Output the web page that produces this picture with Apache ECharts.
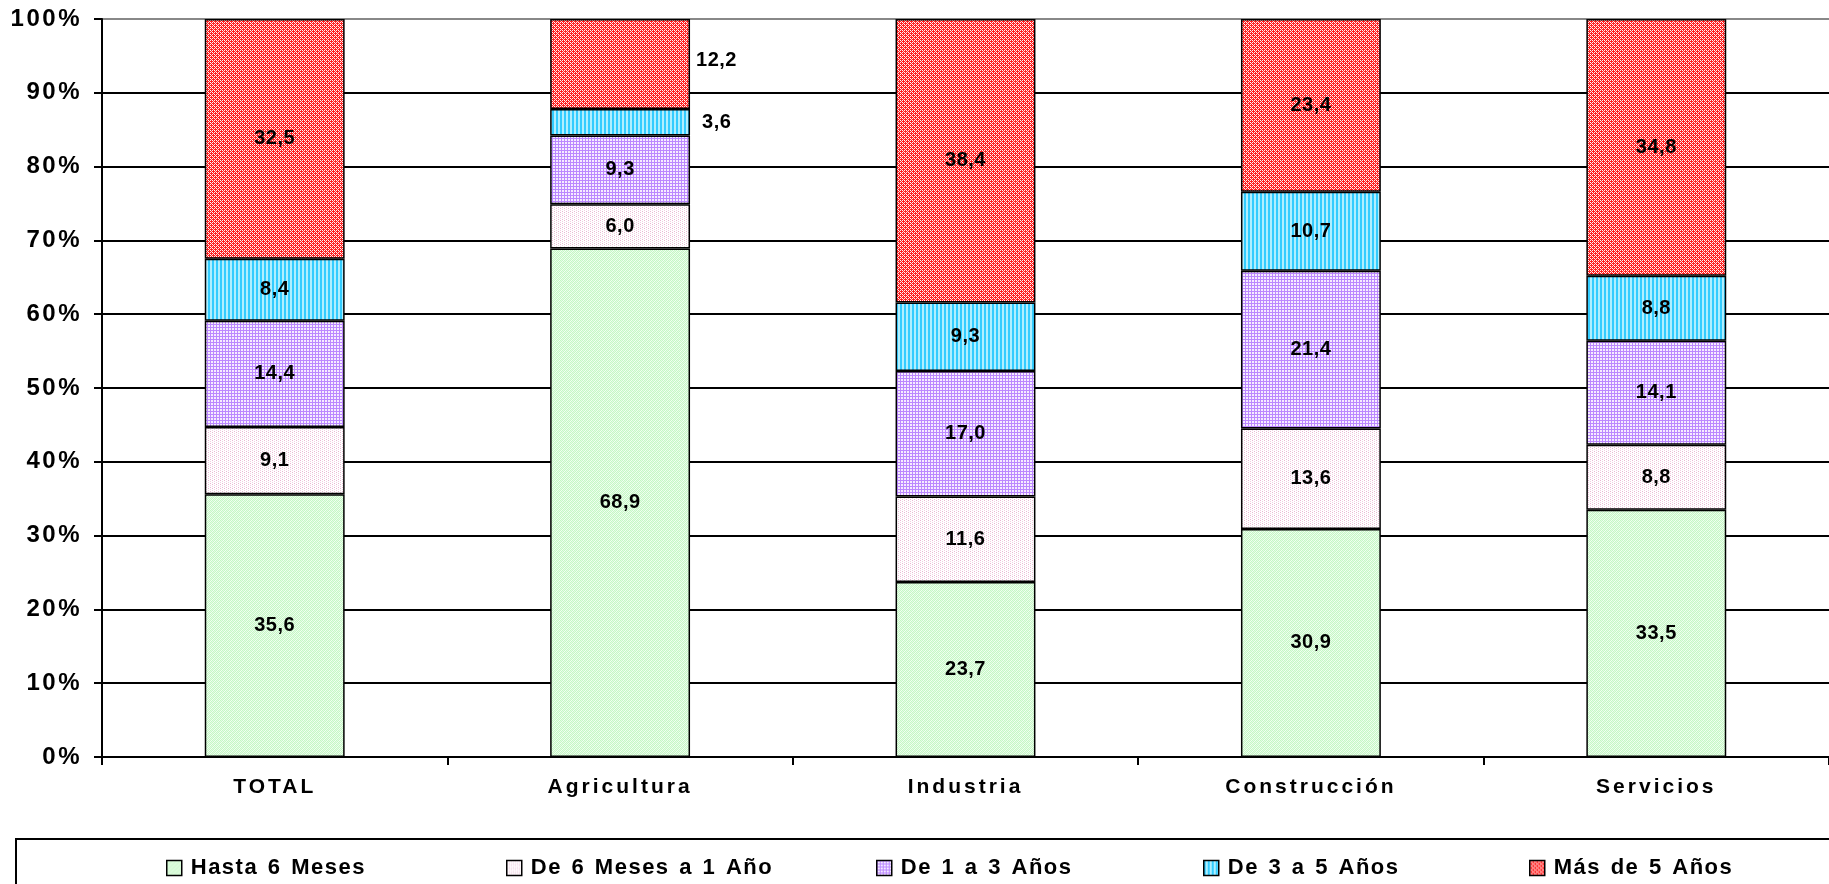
<!DOCTYPE html>
<html>
<head>
<meta charset="utf-8">
<script src="https://cdn.jsdelivr.net/npm/echarts@6/dist/echarts.min.js"></script>
<style>html,body{margin:0;padding:0;background:#fff;}#c{width:1829px;height:884px;}</style>
</head>
<body>
<div id="c"></div>
<script>
const categories = ['TOTAL', 'Agricultura', 'Industria', 'Construcción', 'Servicios'];
const seriesNames = ['Hasta 6 Meses', 'De 6 Meses a 1 Año', 'De 1 a 3 Años', 'De 3 a 5 Años', 'Más de 5 Años'];
const hasta6Meses = [35.6, 68.9, 23.7, 30.9, 33.5];
const de6Mesesa1Ano = [9.1, 6.0, 11.6, 13.6, 8.8];
const de1a3Anos = [14.4, 9.3, 17.0, 21.4, 14.1];
const de3a5Anos = [8.4, 3.6, 9.3, 10.7, 8.8];
const masDe5Anos = [32.5, 12.2, 38.4, 23.4, 34.8];
const yTicks = [0, 10, 20, 30, 40, 50, 60, 70, 80, 90, 100];

// Excel-like letter/word spacing, depending on the text size
(function(){
  const spacingBySize = {
    '20': ['0.5px', '0px'],   // data labels
    '24': ['2.5px', '0px'],   // value axis labels
    '21': ['3px', '0px'],     // category labels
    '22': ['1.5px', '2px']    // legend
  };
  const of = CanvasRenderingContext2D.prototype.fillText;
  CanvasRenderingContext2D.prototype.fillText = function(){
    try {
      const m = /(\d+(?:\.\d+)?)px/.exec(this.font || '');
      const key = m ? String(Math.round(parseFloat(m[1]))) : '';
      const s = spacingBySize[key] || ['0px', '0px'];
      this.letterSpacing = s[0];
      this.wordSpacing = s[1];
    } catch(e) {}
    return of.apply(this, arguments);
  };
})();

function pattern(kind){
  const c = document.createElement('canvas');
  const ctx = c.getContext('2d');
  function px(x,y,col){ ctx.fillStyle = col; ctx.fillRect(x,y,1,1); }
  if (kind === 'green') {
    c.width = 4; c.height = 4;
    ctx.fillStyle = '#c6f7c6'; ctx.fillRect(0,0,4,4);
    for (let i=0;i<4;i++){ px(i,(3-i),'#f2fff2'); px((i+2)%4,(3-i),'#e4fde4'); }
  } else if (kind === 'pink') {
    c.width = 4; c.height = 4;
    ctx.fillStyle = '#ffffff'; ctx.fillRect(0,0,4,4);
    px(0,0,'#eab8d2'); px(0,2,'#f2d0e2'); px(2,1,'#f2d0e2'); px(2,3,'#eab8d2');
  } else if (kind === 'purple') {
    c.width = 3; c.height = 3;
    ctx.fillStyle = '#f6ecff'; ctx.fillRect(0,0,3,3);
    ctx.fillStyle = '#bb88ff'; ctx.fillRect(0,0,3,1); ctx.fillRect(0,0,1,3);
  } else if (kind === 'cyan') {
    c.width = 4; c.height = 1;
    ctx.fillStyle = '#33ccff'; ctx.fillRect(0,0,2,1);
    ctx.fillStyle = '#b0efff'; ctx.fillRect(2,0,2,1);
  } else {
    c.width = 4; c.height = 4;
    ctx.fillStyle = '#ff1f1f'; ctx.fillRect(0,0,4,4);
    px(0,0,'#ffffff'); px(2,2,'#ffffff'); px(1,1,'#ffd0d0'); px(3,3,'#ffd0d0');
    px(2,0,'#ffecec'); px(0,2,'#ffecec');
  }
  return { image: c, repeat: 'repeat' };
}

const fills = [pattern('green'), pattern('pink'), pattern('purple'), pattern('cyan'), pattern('red')];
const allData = [hasta6Meses, de6Mesesa1Ano, de1a3Anos, de3a5Anos, masDe5Anos];

const labelFont = { fontFamily: 'Liberation Sans, Arial, sans-serif', fontWeight: 'bold', color: '#000' };

const series = allData.map((arr, si) => ({
  name: seriesNames[si],
  type: 'bar',
  stack: 'total',
  barWidth: '40.5%',
  itemStyle: { color: fills[si], borderColor: '#000', borderWidth: 1.5 },
  label: {
    show: true, position: 'inside', fontSize: 20, ...labelFont,
    formatter: p => p.value.toFixed(1).replace('.', ',')
  },
  data: arr.map((v, ci) => {
    if (ci === 1 && si === 3) return { value: v, label: { position: 'right', distance: 12 } };
    if (ci === 1 && si === 4) return { value: v, label: { position: 'right', distance: 6, offset: [0, -4] } };
    return v;
  })
}));

const legendLefts = [166, 506, 876, 1203, 1529];
const legends = seriesNames.map((n, i) => ({
  data: [n],
  left: legendLefts[i],
  top: 857,
  orient: 'horizontal',
  icon: 'rect',
  itemWidth: 15,
  itemHeight: 15,
  itemGap: 0,
  padding: 0,
  selectedMode: false,
  itemStyle: { borderColor: '#000', borderWidth: 1.5 },
  textStyle: { fontSize: 22, padding: [0, 0, 0, 4], ...labelFont }
}));

const gridColors = yTicks.map((t, i) => i === yTicks.length - 1 ? '#888888' : '#000000');

const chart = echarts.init(document.getElementById('c'), null, { renderer: 'canvas' });
chart.setOption({
  animation: false,
  backgroundColor: '#fff',
  grid: { left: 102, right: -15, top: 19, bottom: 127, containLabel: false },
  legend: legends,
  xAxis: {
    type: 'category',
    data: categories,
    axisLine: { lineStyle: { color: '#000', width: 2 } },
    axisTick: { show: true, length: 8, lineStyle: { color: '#000', width: 2 } },
    axisLabel: { margin: 20, fontSize: 21, ...labelFont }
  },
  yAxis: {
    type: 'value',
    min: 0, max: 100, interval: 10,
    axisLine: { show: true, lineStyle: { color: '#000', width: 2 } },
    axisTick: { show: true, length: 8, lineStyle: { color: '#000', width: 2 } },
    axisLabel: { margin: 20, fontSize: 24, ...labelFont, formatter: v => v + '%' },
    splitLine: { show: true, lineStyle: { color: gridColors, width: 2 } }
  },
  graphic: [{
    type: 'rect',
    shape: { x: 16, y: 839, width: 1840, height: 80 },
    style: { fill: 'none', stroke: '#000', lineWidth: 2 },
    z: 0
  }],
  series: series
});
</script>
</body>
</html>
